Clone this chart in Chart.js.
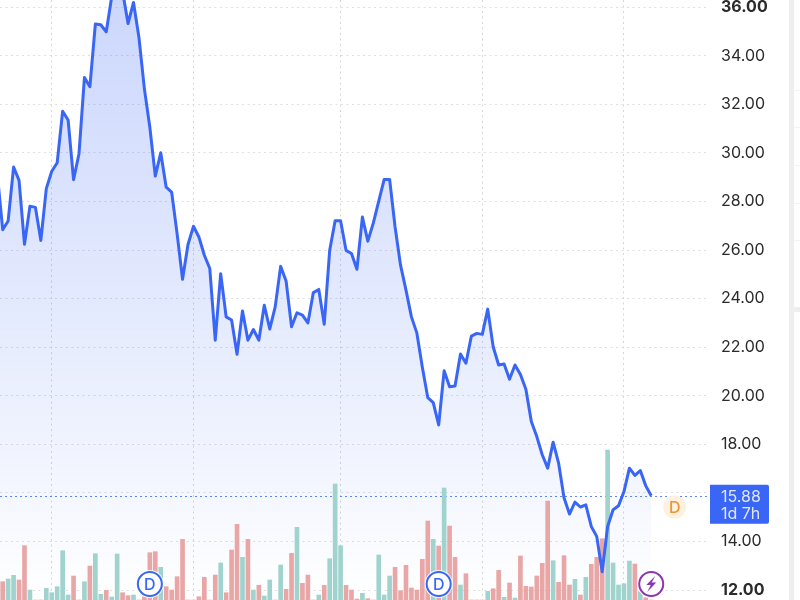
<!DOCTYPE html>
<html lang="en">

<head>
    <meta charset="UTF-8">
    <title>Price chart</title>
    <script src="https://cdn.jsdelivr.net/npm/chart.js"></script>
    <style>
        html, body { margin: 0; padding: 0; background: #fff; }
        #wrap { width: 800px; height: 600px; position: relative; overflow: hidden; }
    </style>
</head>

<body>
    <div id="wrap"><canvas id="priceChart" width="800" height="600"></canvas></div>
    <script>
        // Closing prices, first one sits just off the left edge
        const closes = [
            29.16, 26.84, 27.20, 29.42, 28.87, 26.24, 27.81, 27.76, 26.40, 28.53, 29.25,
            29.60, 31.72, 31.36, 28.90, 29.97, 33.11, 32.73, 35.31, 35.28, 34.99,
            36.43, 36.60, 36.65, 35.33, 36.20, 34.76, 32.64, 31.06, 29.05, 30.01,
            28.59, 28.39, 26.68, 24.80, 26.23, 26.98, 26.54, 25.79, 25.24, 22.29,
            25.03, 23.25, 23.12, 21.71, 23.49, 22.29, 22.73, 22.29, 23.73, 22.75,
            23.66, 25.33, 24.73, 22.84, 23.42, 23.32, 23.00, 24.25, 24.38, 22.95,
            25.99, 27.21, 27.21, 25.99, 25.86, 25.21, 27.36, 26.37, 27.11, 28.02,
            28.91, 28.91, 26.95, 25.38, 24.35, 23.25, 22.58, 21.18, 19.92, 19.72,
            18.80, 21.03, 20.37, 20.40, 21.72, 21.34, 22.46, 22.57, 22.53, 23.57,
            22.02, 21.27, 21.31, 20.68, 21.27, 20.88, 20.27, 18.94, 18.32, 17.57,
            17.02, 18.09, 17.23, 15.80, 15.13, 15.62, 15.42, 15.51, 14.62, 14.21,
            12.75, 14.62, 15.31, 15.47, 16.06, 17.02, 16.72, 16.92, 16.29, 15.88
        ];

        // Volume per day in millions, starts at the second close
        const volumes = [
            1.83, 2.10, 2.47, 2.00, 5.43, 1.00, 0, 0, 1.17, 0.73,
            1.33, 4.93, 0.50, 2.40, 0, 1.83, 3.40, 4.63, 0.57, 0.97,
            0.30, 4.60, 0.73, 0.43, 0.50, 0, 0.33, 4.73, 4.83, 3.27,
            1.33, 1.00, 2.33, 6.07, 0, 0, 0.33, 2.27, 0, 2.50,
            3.70, 0.73, 5.00, 7.57, 4.27, 6.07, 1.00, 1.47, 0.40, 2.00,
            0, 3.50, 1.07, 4.67, 7.27, 1.67, 2.50, 0, 0.50, 1.47,
            4.13, 11.60, 5.43, 1.47, 1.00, 0.10, 0.67, 0.13, 0, 4.50,
            0.50, 2.40, 3.27, 0.93, 3.47, 1.20, 1.00, 4.07, 7.90, 6.07,
            5.40, 11.20, 7.40, 4.27, 1.50, 2.63, 0, 0, 0, 0.87,
            1.13, 2.97, 0.27, 1.70, 0.20, 4.40, 1.37, 1.30, 2.40, 3.67,
            9.90, 3.93, 1.77, 4.43, 1.50, 2.07, 0.50, 2.27, 3.57, 4.27,
            6.13, 15.00, 3.70, 1.50, 1.63, 3.90, 3.60, 0.83, 0.23, 0
        ];
        // 1 = up day (green bar), 0 = down day (red bar)
        const volumeUp = [
            0, 1, 1, 0, 0, 1, 0, 0, 1, 1,
            1, 1, 1, 0, 0, 1, 0, 1, 1, 0,
            1, 1, 0, 0, 1, 0, 0, 0, 0, 1,
            0, 0, 0, 0, 0, 0, 0, 0, 0, 0,
            1, 0, 0, 0, 1, 0, 1, 0, 1, 1,
            0, 1, 0, 0, 1, 0, 0, 0, 1, 0,
            1, 1, 1, 0, 0, 0, 1, 0, 0, 1,
            1, 1, 0, 0, 0, 0, 0, 0, 0, 1,
            0, 1, 0, 0, 1, 0, 0, 0, 0, 1,
            0, 0, 1, 0, 1, 0, 0, 0, 0, 0,
            0, 1, 0, 0, 0, 1, 0, 1, 0, 0,
            0, 1, 1, 1, 1, 1, 0, 1, 0, 0
        ];

        const priceTicks = [12, 14, 16, 18, 20, 22, 24, 26, 28, 30, 32, 34, 36];
        const boldTicks = [12, 36];
        const monthStarts = [9, 35, 62, 88, 114];
        const lastPrice = 15.88;
        const lastPriceLabel = '15.88';
        const countdownLabel = '1d 7h';
        const dividendDays = [27, 80];
        const earningsDay = 119;
        const nextDividendDay = 123.3;

        const FONT = 'Inter, "Open Sans", sans-serif';

        // Markers, price tag and the panel divider on top of the chart
        const overlayPlugin = {
            id: 'overlay',
            beforeDatasetsDraw(chart) {
                const { ctx, chartArea, scales } = chart;
                const y = Math.round(scales.y.getPixelForValue(lastPrice)) + 0.5;
                ctx.save();
                ctx.strokeStyle = 'rgba(58,102,245,0.8)';
                ctx.lineWidth = 1;
                ctx.setLineDash([2, 3]);
                ctx.beginPath();
                ctx.moveTo(chartArea.left, y);
                ctx.lineTo(chartArea.right, y);
                ctx.stroke();
                ctx.restore();
            },
            afterDraw(chart) {
                const { ctx, chartArea, scales } = chart;
                ctx.save();

                // price tag
                const tagY = scales.y.getPixelForValue(lastPrice);
                ctx.fillStyle = '#3a66f5';
                ctx.beginPath();
                ctx.roundRect(chartArea.right + 1, tagY - 11, 59, 39, [0, 2, 2, 0]);
                ctx.fill();
                ctx.font = '16px ' + FONT;
                ctx.textAlign = 'left';
                ctx.textBaseline = 'middle';
                ctx.fillStyle = '#dfe6fd';
                ctx.fillText(lastPriceLabel, chartArea.right + 12, tagY + 1);
                ctx.fillText(countdownLabel, chartArea.right + 12, tagY + 18);

                // dividend markers
                dividendDays.forEach(day => {
                    const x = scales.x.getPixelForValue(day);
                    ctx.beginPath();
                    ctx.arc(x, 584, 14, 0, Math.PI * 2);
                    ctx.fillStyle = 'rgba(255,255,255,0.85)';
                    ctx.fill();
                    ctx.beginPath();
                    ctx.arc(x, 584, 12, 0, Math.PI * 2);
                    ctx.fillStyle = '#fff';
                    ctx.fill();
                    ctx.lineWidth = 2;
                    ctx.strokeStyle = '#3a66f5';
                    ctx.stroke();
                    ctx.fillStyle = '#3a66f5';
                    ctx.font = '500 16px ' + FONT;
                    ctx.textAlign = 'center';
                    ctx.fillText('D', x, 585);
                });

                // next dividend
                const nextX = scales.x.getPixelForValue(nextDividendDay);
                ctx.beginPath();
                ctx.arc(nextX, 507, 11.5, 0, Math.PI * 2);
                ctx.fillStyle = '#fdf1e0';
                ctx.fill();
                ctx.fillStyle = '#ef9433';
                ctx.font = '500 16px ' + FONT;
                ctx.fillText('D', nextX, 508);

                // earnings marker
                const boltX = scales.x.getPixelForValue(earningsDay);
                ctx.beginPath();
                ctx.arc(boltX, 584, 14, 0, Math.PI * 2);
                ctx.fillStyle = '#fff';
                ctx.fill();
                ctx.beginPath();
                ctx.arc(boltX, 584, 12, 0, Math.PI * 2);
                ctx.lineWidth = 2;
                ctx.strokeStyle = '#8e35b0';
                ctx.stroke();
                ctx.fillStyle = '#8e35b0';
                ctx.beginPath();
                [[4, -8], [-5, 1], [-0.5, 1], [-4, 8], [5, -1.5], [0.5, -1.5]].forEach(([dx, dy], i) => {
                    if (i === 0) ctx.moveTo(boltX + dx, 584 + dy);
                    else ctx.lineTo(boltX + dx, 584 + dy);
                });
                ctx.closePath();
                ctx.fill();

                // panel divider
                ctx.fillStyle = '#eeeeee';
                ctx.fillRect(789, 0, 5, 600);
                ctx.fillRect(794, 307, 6, 5);
                ctx.fillStyle = '#f4f4f4';
                [90, 127, 165, 203, 240].forEach(y => ctx.fillRect(794, y, 6, 1));
                ctx.restore();
            }
        };

        // The labels may touch the canvas edge, so no room is reserved for them
        function noPadding(scale) {
            scale.paddingTop = 0;
            scale.paddingBottom = 0;
            scale.paddingLeft = 0;
            scale.paddingRight = 0;
        }

        const ctx = document.getElementById('priceChart').getContext('2d');
        new Chart(ctx, {
            data: {
                datasets: [
                    {
                        type: 'line',
                        order: 1,
                        data: closes.map((close, i) => ({ x: i - 1, y: close })),
                        xAxisID: 'x',
                        yAxisID: 'y',
                        borderColor: '#3a66f5',
                        borderWidth: 3,
                        borderJoinStyle: 'round',
                        pointRadius: 0,
                        tension: 0,
                        fill: 'start',
                        backgroundColor: context => {
                            const area = context.chart.chartArea;
                            if (!area) return 'rgba(58,102,245,0.1)';
                            const gradient = context.chart.ctx.createLinearGradient(0, area.top, 0, area.bottom);
                            gradient.addColorStop(0, 'rgba(58,102,245,0.26)');
                            gradient.addColorStop(0.5, 'rgba(58,102,245,0.14)');
                            gradient.addColorStop(0.83, 'rgba(58,102,245,0.05)');
                            gradient.addColorStop(1, 'rgba(58,102,245,0)');
                            return gradient;
                        }
                    },
                    {
                        type: 'bar',
                        order: 2,
                        data: volumes.map((volume, i) => ({ x: i, y: volume })),
                        xAxisID: 'x',
                        yAxisID: 'volume',
                        barThickness: 4,
                        backgroundColor: volumeUp.map(up => up ? '#a0d3cd' : '#e8a6a6')
                    }
                ]
            },
            options: {
                responsive: false,
                animation: false,
                layout: { padding: 0 },
                plugins: {
                    legend: { display: false },
                    tooltip: { enabled: false },
                    filler: { drawTime: 'beforeDatasetsDraw' }
                },
                scales: {
                    x: {
                        type: 'linear',
                        min: -0.495,
                        max: 129.6,
                        offset: false,
                        border: { display: false, dash: [2, 3.5] },
                        grid: { offset: false, drawTicks: false, color: '#d6d6d6', lineWidth: 1 },
                        ticks: { display: false },
                        afterBuildTicks: scale => {
                            scale.ticks = monthStarts.map(value => ({ value }));
                        },
                        afterFit: scale => { scale.height = 0; noPadding(scale); }
                    },
                    y: {
                        position: 'right',
                        min: 11.59,
                        max: 36.30,
                        border: { display: false, dash: [2, 3.5] },
                        grid: { drawTicks: false, color: '#dfdfdf', lineWidth: 1 },
                        afterBuildTicks: scale => {
                            scale.ticks = priceTicks.map(value => ({ value }));
                        },
                        afterFit: scale => { scale.width = 91; noPadding(scale); },
                        ticks: {
                            padding: 12,
                            color: '#2b2b2b',
                            font: context => ({
                                family: FONT,
                                size: 16,
                                weight: context.tick && boldTicks.includes(context.tick.value) ? '700' : '400'
                            }),
                            callback: value => (value === 16 ? '' : value.toFixed(2))
                        }
                    },
                    volume: {
                        display: false,
                        min: 0,
                        max: 60
                    }
                }
            },
            plugins: [overlayPlugin]
        });
    </script>
</body>

</html>
